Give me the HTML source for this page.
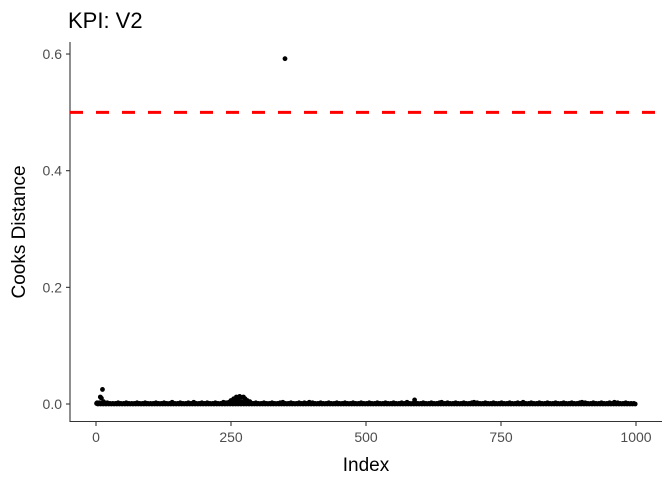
<!DOCTYPE html>
<html><head><meta charset="utf-8"><style>
body{margin:0;background:#fff;}
svg text{font-family:"Liberation Sans",Arial,sans-serif;}
</style></head><body>
<svg id="chart" width="672" height="480">
<text x="68" y="28" font-size="22" fill="#000">KPI: V2</text>
<text transform="translate(25,232) rotate(-90)" text-anchor="middle" font-size="19" fill="#000">Cooks Distance</text>
<text x="366" y="471" text-anchor="middle" font-size="19" fill="#000">Index</text>
<g id="axes"></g>
<g id="points"></g>
<g id="ref"></g>
</svg>
<script>
const xTicks=[0,250,500,750,1000];
const yTicks=[0.0,0.2,0.4,0.6];
const yTickLabels=["0.0","0.2","0.4","0.6"];
const threshold=0.5;
// notable points: index, cook's distance
const spikeIdx=[2,5,8,10,12,14,250,255,260,263,266,270,273,276,280,285,350,395,590,640,700,900,960];
const spikeVal=[0.002,0.001,0.012,0.01,0.025,0.004,0.006,0.009,0.012,0.01,0.013,0.011,0.012,0.009,0.006,0.004,0.592,0.003,0.007,0.003,0.003,0.003,0.003];
// baseline values sampled every 5 indices (1..1000)
const baseVal=[0.001,0.002,0.001,0.001,0.002,0.001,0.001,0.001,0.002,0.001,0.001,0.002,0.001,0.001,0.001,0.002,0.001,0.001,0.002,0.001,
0.001,0.001,0.002,0.001,0.001,0.002,0.001,0.001,0.003,0.001,0.001,0.002,0.001,0.001,0.002,0.001,0.003,0.001,0.001,0.002,
0.001,0.002,0.001,0.001,0.002,0.001,0.001,0.003,0.002,0.003,0.004,0.005,0.006,0.004,0.003,0.002,0.003,0.002,0.001,0.002,
0.001,0.001,0.002,0.001,0.001,0.002,0.001,0.001,0.002,0.003,0.001,0.001,0.002,0.001,0.001,0.002,0.001,0.002,0.001,0.001,
0.002,0.001,0.001,0.002,0.001,0.001,0.002,0.001,0.001,0.002,0.001,0.001,0.002,0.001,0.001,0.002,0.001,0.001,0.002,0.001,
0.001,0.002,0.001,0.001,0.002,0.001,0.001,0.002,0.001,0.001,0.002,0.001,0.001,0.002,0.001,0.003,0.001,0.001,0.002,0.001,
0.001,0.002,0.001,0.001,0.002,0.001,0.001,0.002,0.001,0.001,0.002,0.001,0.001,0.002,0.001,0.001,0.002,0.001,0.001,0.002,
0.001,0.002,0.001,0.001,0.002,0.001,0.001,0.002,0.001,0.001,0.002,0.001,0.001,0.002,0.001,0.001,0.002,0.001,0.003,0.001,
0.001,0.002,0.001,0.001,0.002,0.001,0.001,0.002,0.001,0.001,0.002,0.001,0.001,0.002,0.001,0.001,0.002,0.001,0.001,0.002,
0.001,0.002,0.001,0.001,0.002,0.001,0.001,0.002,0.001,0.001,0.002,0.001,0.001,0.002,0.001,0.001,0.002,0.001,0.001,0.001];
const NS="http://www.w3.org/2000/svg";
const X=v=>96+v*0.54;
const Y=v=>404-v*583.3;
function mk(tag,attrs,parent){const e=document.createElementNS(NS,tag);for(const k in attrs)e.setAttribute(k,attrs[k]);parent.appendChild(e);return e;}
const axes=document.getElementById('axes');
let e=mk('line',{x1:70,y1:42,x2:70,y2:422,stroke:'#333','stroke-width':1.1},axes);


e=mk('line',{x1:70,y1:421.5,x2:662,y2:421.5,stroke:'#333','stroke-width':1.1},axes);


yTicks.forEach((t,i)=>{
 const y=Y(t);
 const tk=mk('line',{x1:66,y1:y,x2:70,y2:y,stroke:'#333','stroke-width':1.1},axes);
 
 
 const tx=mk('text',{x:62,y:y+5,'text-anchor':'end','font-size':14,fill:'#4d4d4d'},axes);
 tx.textContent=yTickLabels[i];
 
 
});
xTicks.forEach(t=>{
 const x=X(t);
 const tk=mk('line',{x1:x,y1:422,x2:x,y2:426,stroke:'#333','stroke-width':1.1},axes);
 
 
 const tx=mk('text',{x:x,y:442,'text-anchor':'middle','font-size':14,fill:'#4d4d4d'},axes);
 tx.textContent=String(t);
 
 
});
const pts=document.getElementById('points');
baseVal.forEach((v,i)=>{
 const c=mk('circle',{cx:X(1+i*5),cy:Y(v),r:2.4,fill:'#000'},pts);
 
 
 const c2=mk('circle',{cx:X(3.5+i*5),cy:Y(0),r:2.4,fill:'#000'},pts);
 
 
});
spikeIdx.forEach((ix,i)=>{
 const c=mk('circle',{cx:X(ix),cy:Y(spikeVal[i]),r:2.4,fill:'#000'},pts);
 
 
});
const r=mk('line',{x1:70,y1:Y(threshold),x2:662,y2:Y(threshold),stroke:'#ff0000','stroke-width':3,'stroke-dasharray':'13,13'},document.getElementById('ref'));


</script>
</body></html>
